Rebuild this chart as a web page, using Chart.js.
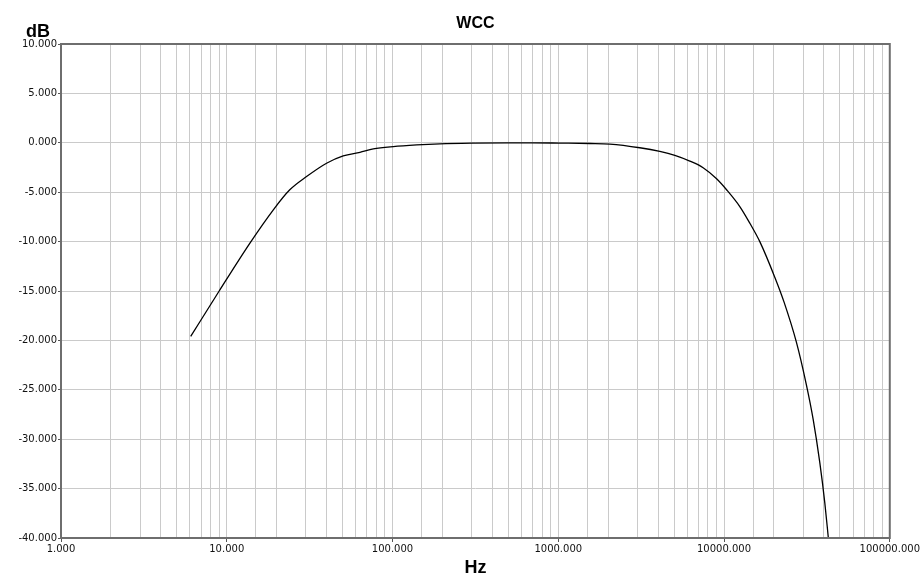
<!DOCTYPE html>
<html>
<head>
<meta charset="utf-8">
<script src="https://cdn.jsdelivr.net/npm/chart.js@4"></script>
<style>
  html, body { margin: 0; padding: 0; background: #fff; }
  #wrap { width: 921px; height: 584px; }
</style>
</head>
<body>
<div id="wrap"><canvas id="c" width="921" height="584"></canvas></div>
<script>
// frequency response WCC
const chartTitle = "WCC";
const xAxisTitle = "Hz";
const yAxisTitle = "dB";

const freqHz = [6.06, 9.0, 13.8, 19.1, 24.0, 30.3, 40.0, 50.4, 63.6, 76.6, 101, 140, 193, 300, 500, 700, 1023, 1550, 2048, 3105, 4100, 5050, 6220, 7480, 9020, 10360, 12450, 14320, 16440, 20240, 23000, 27350, 31400, 34500, 37850, 40550, 42600];
const gainDb = [-19.6, -15.0, -10.15, -6.78, -4.76, -3.42, -2.07, -1.33, -0.96, -0.62, -0.38, -0.21, -0.1, -0.03, 0, 0, -0.03, -0.07, -0.13, -0.5, -0.87, -1.27, -1.85, -2.52, -3.64, -4.75, -6.45, -8.14, -10.0, -13.6, -16.1, -20.2, -24.5, -28.0, -32.4, -36.44, -40];

const xMin = 1, xMax = 100000;
const yMin = -40, yMax = 10, yStep = 5;

const isDecade = v => {
  const l = Math.log10(v);
  return Math.abs(l - Math.round(l)) < 1e-9;
};

// marco y textos a mano
const framePlugin = {
  id: "frame",
  afterDraw(chart) {
    const { ctx, chartArea: a } = chart;
    ctx.save();
    ctx.strokeStyle = "#6e6e6e";
    ctx.lineWidth = 2;
    ctx.strokeRect(a.left, a.top, a.right - a.left, a.bottom - a.top);
    ctx.fillStyle = "#000";
    ctx.font = "bold 16px 'Liberation Sans', Arial, sans-serif";
    ctx.textAlign = "center";
    ctx.textBaseline = "middle";
    ctx.fillText(chartTitle, (a.left + a.right) / 2, 24);
    ctx.font = "bold 18px 'Liberation Sans', Arial, sans-serif";
    ctx.fillText(yAxisTitle, 38, 32);
    ctx.fillText(xAxisTitle, (a.left + a.right) / 2, 568);
    ctx.restore();
  }
};

const ctx = document.getElementById("c").getContext("2d");
new Chart(ctx, {
  type: "line",
  data: {
    datasets: [{
      data: freqHz.map((f, i) => ({ x: f, y: gainDb[i] })),
      borderColor: "#000",
      borderWidth: 1.3,
      pointRadius: 0,
      fill: false,
      cubicInterpolationMode: "monotone"
    }]
  },
  options: {
    responsive: false,
    animation: false,
    layout: { padding: { top: 44, right: 31, left: 0, bottom: 0 } },
    plugins: { legend: { display: false }, title: { display: false }, tooltip: { enabled: false } },
    scales: {
      x: {
        type: "logarithmic",
        min: xMin,
        max: xMax,
        afterFit: s => { s.height = 46; },
        border: { display: false },
        grid: {
          color: "#cacaca",
          lineWidth: 1,
          tickLength: 4,
          tickColor: c => (c.tick && isDecade(c.tick.value)) ? "#555" : "rgba(0,0,0,0)"
        },
        ticks: {
          autoSkip: false,
          maxRotation: 0,
          padding: 1,
          color: "#111",
          font: { family: "'DejaVu Sans', sans-serif", size: 10 },
          callback: v => isDecade(v) ? Number(v).toFixed(3) : ""
        }
      },
      y: {
        min: yMin,
        max: yMax,
        afterFit: s => { s.width = 61; },
        border: { display: false },
        grid: { color: "#cacaca", lineWidth: 1, tickLength: 3, tickColor: "#555" },
        ticks: {
          stepSize: yStep,
          padding: 1,
          color: "#111",
          font: { family: "'DejaVu Sans', sans-serif", size: 10 },
          callback: v => Number(v).toFixed(3)
        }
      }
    }
  },
  plugins: [framePlugin]
});
</script>
</body>
</html>
